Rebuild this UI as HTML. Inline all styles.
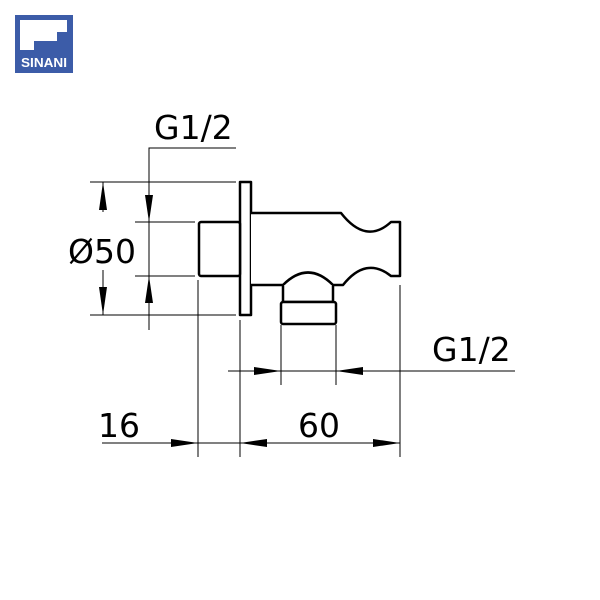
<!DOCTYPE html>
<html><head><style>body{margin:0;background:#fff}svg{display:block}</style></head><body>
<svg width="600" height="600" viewBox="0 0 600 600" xmlns="http://www.w3.org/2000/svg" font-family="'DejaVu Sans','Liberation Sans',sans-serif">
<rect x="15" y="15" width="58" height="58" fill="#3c5ca8"/>
<polygon points="20,20 67,20 67,32 57,32 57,41 34,41 34,50 20,50" fill="#fff"/>
<text x="44" y="67" font-size="13" font-weight="bold" fill="#fff" text-anchor="middle" font-family="'Liberation Sans',sans-serif" textLength="46" lengthAdjust="spacingAndGlyphs">SINANI</text>
<g stroke="#000" stroke-width="1" fill="none">
<line x1="90" y1="182" x2="236" y2="182"/><line x1="90" y1="315" x2="236" y2="315"/>
<line x1="135" y1="222" x2="195" y2="222"/><line x1="135" y1="276" x2="195" y2="276"/>
<line x1="103" y1="182" x2="103" y2="212"/><line x1="103" y1="270" x2="103" y2="315"/>
<polyline points="236,148 149,148 149,330"/>
<line x1="198" y1="280" x2="198" y2="457"/><line x1="240" y1="320" x2="240" y2="457"/><line x1="400" y1="285" x2="400" y2="457"/>
<line x1="281" y1="325" x2="281" y2="385"/><line x1="336" y1="325" x2="336" y2="385"/>
<line x1="228" y1="371" x2="515" y2="371"/>
<line x1="102" y1="443" x2="400" y2="443"/>
</g>
<g fill="#000">
<polygon points="103,182 99,210 107,210"/><polygon points="103,315 99,287 107,287"/>
<polygon points="149,222 145,195 153,195"/><polygon points="149,276 145,303 153,303"/>
<polygon points="281,371 254,367 254,375"/><polygon points="336,371 363,367 363,375"/>
<polygon points="198,443 171,439 171,447"/><polygon points="240,443 267,439 267,447"/><polygon points="400,443 373,439 373,447"/>
</g>
<g stroke="#000" stroke-width="2.5" fill="#fff" stroke-linejoin="round">
<rect x="240" y="182" width="11" height="133"/>
<rect x="199" y="222" width="41" height="54" rx="2"/>
<path d="M251,213 L341,213 Q366,245 391,222 L400,222 L400,276 L391,276 Q366,256 343,285 L333,285 Q308,260 283,285 L251,285"/>
<path d="M283,285 L283,302 L333,302 L333,285"/>
<rect x="281" y="302" width="55" height="22" rx="2"/>
</g>
<g font-size="33" fill="#000">
<text x="154" y="139">G1/2</text>
<text x="68" y="263">Ø50</text>
<text x="432" y="361">G1/2</text>
<text x="98" y="437">16</text>
<text x="298" y="437">60</text>
</g>
</svg>
</body></html>
